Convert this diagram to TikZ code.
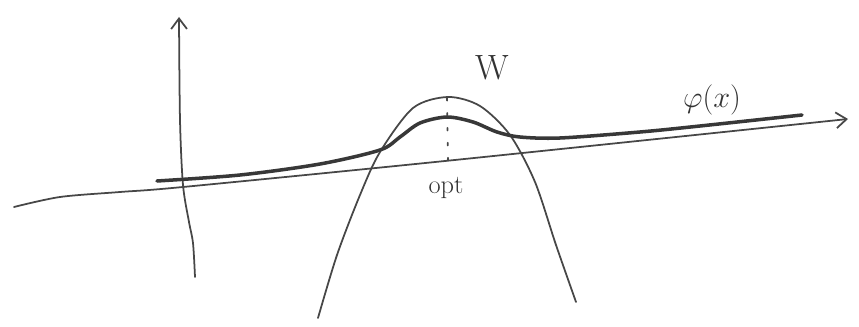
\documentclass[tikz,border=0pt]{standalone}
\usepackage{amsmath, amssymb}
\usetikzlibrary{calc,arrows.meta}

\begin{document}
\begin{tikzpicture}[x=0.02cm, y=-0.02cm,
  pen/.style={black!72, line width=1pt, line cap=round, line join=round},
  thickpen/.style={black!78, line width=2pt, line cap=round, line join=round},
  hand/.style={text=black!80, inner sep=0pt}]
\useasboundingbox (0,0) rectangle (859,327);
% axes
\draw[pen, -{Straight Barb[length=6pt, width=9pt]}] plot[smooth] coordinates {(195,277) (193,243) (189,222) (183,185) (180,120) (179,17)};
\draw[pen, -{Straight Barb[length=6pt, width=9pt]}] plot[smooth] coordinates {(14,207) (60,197) (120,192) (183,187) (445,161) (848,119)};
% W
\draw[pen] plot[smooth] coordinates {(318,318) (337,255) (360,195) (380,152) (413,108) (448,97) (480,106) (510,135) (535,182) (556,245) (576,302)};
% phi(x)
\draw[thickpen] plot[smooth] coordinates {(157,181) (240,175) (320,164) (380,150) (400,137) (420,123) (447,117) (473,122) (497,132) (520,137) (560,138) (640,132) (700,126) (802,115)};
% optimum
\coordinate (peak) at (447,98);
\coordinate (foot) at (448,161);
\draw[pen, dash pattern=on 1.5pt off 7pt] (peak) -- (foot);
\node[hand, font=\fontsize{15}{16}\selectfont] (lblopt) at (446,188) {opt};
\node[hand, font=\fontsize{20}{22}\selectfont] (lblW) at (492,68) {W};
\node[hand, font=\fontsize{19}{22}\selectfont] (lblphi) at (712,100) {$\varphi(x)$};
\end{tikzpicture}
\end{document}
